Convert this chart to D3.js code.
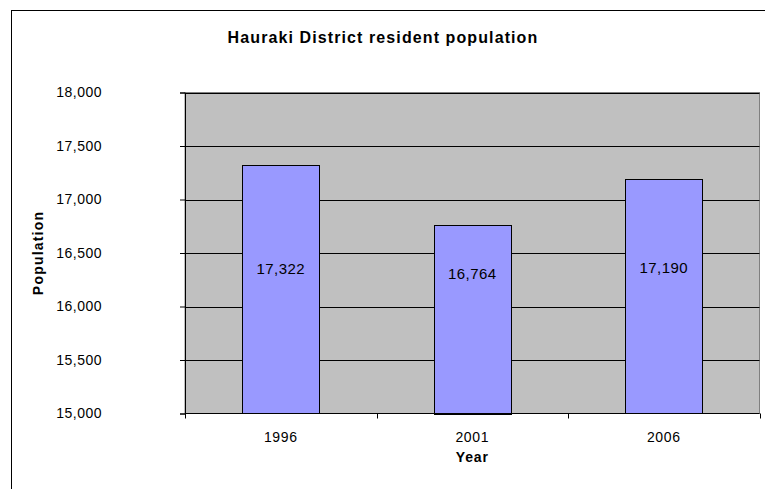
<!DOCTYPE html>
<html>
<head>
<meta charset="utf-8">
<script src="https://cdn.jsdelivr.net/npm/d3@7"></script>
<style>
  body { margin: 0; background: #fff; }
  svg { display: block; font-family: Arial, "Liberation Sans", sans-serif; }
</style>
</head>
<body>
<div id="chart"></div>
<script>
// Chart data
var years = ['1996', '2001', '2006'];
var population = [17322, 16764, 17190];
var labelLevels = [16350, 16305, 16360];
var yTicks = [15000, 15500, 16000, 16500, 17000, 17500, 18000];

var width = 765,
    height = 489,
    plotLeft = 185,
    plotRight = 759.5,
    plotTop = 92.5,
    plotBottom = 413.5,
    plotFill = '#C0C0C0',
    barFill = '#9999FF';

var svg = d3.select('#chart').append('svg')
    .attr('width', width)
    .attr('height', height);

// Outer chart frame (runs off the right and bottom edges)
svg.append('rect')
   .attr('x', 11.5)
   .attr('y', 10.5)
   .attr('width', 900)
   .attr('height', 900)
   .attr('fill', 'none')
   .attr('stroke', '#000');

var x = d3.scaleBand()
    .domain(years)
    .range([plotLeft, plotRight])
    .paddingInner(0.6)
    .paddingOuter(0.3);

var xOuter = d3.scaleBand()
    .domain(years)
    .range([plotLeft, plotRight]);

var y = d3.scaleLinear()
    .domain([15000, 18000])
    .range([plotBottom, plotTop]);

// Plot area
svg.append('rect')
   .attr('x', plotLeft)
   .attr('y', plotTop)
   .attr('width', plotRight - plotLeft)
   .attr('height', plotBottom - plotTop)
   .attr('fill', plotFill)
   .attr('stroke', '#808080');

// Gridlines
svg.append('g')
   .selectAll('line')
   .data(yTicks.slice(1))
   .enter().append('line')
   .attr('x1', plotLeft)
   .attr('x2', plotRight)
   .attr('y1', function(d) { return Math.round(y(d)) + 0.5; })
   .attr('y2', function(d) { return Math.round(y(d)) + 0.5; })
   .attr('stroke', '#000')
   .attr('stroke-width', 1);

// Bars
svg.append('g')
   .selectAll('rect')
   .data(population)
   .enter().append('rect')
   .attr('x', function(d, i) { return Math.round(x(years[i])) + 0.5; })
   .attr('y', function(d) { return Math.round(y(d)) + 0.5; })
   .attr('width', Math.round(x.bandwidth()))
   .attr('height', function(d) { return Math.round(plotBottom - y(d)); })
   .attr('fill', barFill)
   .attr('stroke', '#000');

// Value labels inside bars
svg.append('g')
   .selectAll('text')
   .data(population)
   .enter().append('text')
   .attr('x', function(d, i) { return x(years[i]) + x.bandwidth() / 2; })
   .attr('y', function(d, i) { return y(labelLevels[i]); })
   .attr('dy', '0.35em')
   .attr('text-anchor', 'middle')
   .attr('font-size', '15px')
   .attr('letter-spacing', '0.4px')
   .attr('fill', '#000')
   .text(function(d) { return d3.format(',')(d); });

// Y axis
var yAxis = d3.axisLeft(y)
    .tickValues(yTicks)
    .tickFormat(d3.format(','))
    .tickSize(5)
    .tickPadding(78);

var yAxisG = svg.append('g')
   .attr('transform', 'translate(' + plotLeft + ',0)')
   .call(yAxis);

yAxisG.select('.domain').attr('stroke', '#000');
yAxisG.selectAll('.tick line').attr('stroke', '#000');
yAxisG.selectAll('.tick text')
   .attr('font-size', '14px')
   .attr('letter-spacing', '0.5px')
   .attr('fill', '#000')
   .attr('font-family', 'Arial, "Liberation Sans", sans-serif');

// X axis (ticks at category boundaries)
var xAxisG = svg.append('g')
   .attr('transform', 'translate(0,' + plotBottom + ')');

xAxisG.append('line')
   .attr('x1', plotLeft)
   .attr('x2', plotRight)
   .attr('stroke', '#000');

var boundaries = years.map(function(d) { return xOuter(d); }).concat([plotRight]);
xAxisG.selectAll('.xtick')
   .data(boundaries)
   .enter().append('line')
   .attr('class', 'xtick')
   .attr('x1', function(d) { return Math.round(d) + 0.5; })
   .attr('x2', function(d) { return Math.round(d) + 0.5; })
   .attr('y1', 0)
   .attr('y2', 5)
   .attr('stroke', '#000');

xAxisG.selectAll('.xlabel')
   .data(years)
   .enter().append('text')
   .attr('class', 'xlabel')
   .attr('x', function(d) { return xOuter(d) + xOuter.bandwidth() / 2; })
   .attr('y', 28.5)
   .attr('text-anchor', 'middle')
   .attr('font-size', '14px')
   .attr('letter-spacing', '0.6px')
   .attr('fill', '#000')
   .text(function(d) { return d; });

// Titles
svg.append('text')
   .attr('x', 383)
   .attr('y', 43)
   .attr('text-anchor', 'middle')
   .attr('font-size', '16px')
   .attr('font-weight', 'bold')
   .attr('letter-spacing', '1.1px')
   .text('Hauraki District resident population');

svg.append('text')
   .attr('x', (plotLeft + plotRight) / 2)
   .attr('y', 462)
   .attr('text-anchor', 'middle')
   .attr('font-size', '14px')
   .attr('font-weight', 'bold')
   .attr('letter-spacing', '0.8px')
   .text('Year');

svg.append('text')
   .attr('transform', 'translate(43,' + ((plotTop + plotBottom) / 2) + ') rotate(-90)')
   .attr('text-anchor', 'middle')
   .attr('font-size', '14px')
   .attr('font-weight', 'bold')
   .attr('letter-spacing', '1.2px')
   .text('Population');
</script>
</body>
</html>
